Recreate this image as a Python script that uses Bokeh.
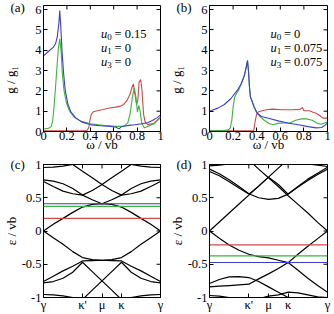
import math
from bokeh.plotting import figure
from bokeh.layouts import row, column
from bokeh.models import Range1d, FixedTicker, Label, Span, Title
from bokeh.embed import file_html
from bokeh.resources import INLINE

FONT = "Liberation Serif"
RED = "#d04848"
GREEN = "#3cb43c"
BLUE = "#3c3cd0"

# ---------------- panel (a): g/g1 vs omega/vb ----------------
a_blue_w = [0, 0.044, 0.085, 0.104, 0.117, 0.131, 0.139, 0.148, 0.158, 0.172, 0.186, 0.208, 0.235, 0.276, 0.33, 0.40, 0.48, 0.56, 0.62, 0.645, 0.67, 0.73, 0.78, 0.84, 0.89, 0.93, 0.97, 1.0]
a_blue_g = [3.72, 3.95, 4.15, 4.34, 4.64, 5.30, 5.95, 5.13, 3.98, 2.84, 2.02, 1.36, 0.95, 0.67, 0.46, 0.34, 0.28, 0.26, 0.21, 0.13, 0.25, 0.30, 0.33, 0.38, 0.43, 0.54, 0.67, 0.82]
a_green_w = [0, 0.044, 0.066, 0.079, 0.09, 0.104, 0.117, 0.128, 0.139, 0.150, 0.161, 0.175, 0.194, 0.221, 0.262, 0.317, 0.40, 0.51, 0.62, 0.686, 0.72, 0.74, 0.76, 0.776, 0.79, 0.803, 0.814, 0.825, 0.84, 0.863, 0.89, 0.95, 1.0]
a_green_g = [0.12, 0.16, 0.25, 0.54, 1.2, 2.26, 3.33, 4.15, 4.56, 3.98, 2.84, 2.02, 1.44, 1.03, 0.70, 0.51, 0.38, 0.30, 0.25, 0.25, 0.41, 0.87, 1.69, 2.15, 1.69, 0.95, 1.28, 1.03, 0.38, 0.18, 0.25, 0.40, 0.70]
a_red_w = [0, 0.372, 0.388, 0.399, 0.41, 0.426, 0.467, 0.508, 0.563, 0.617, 0.66, 0.686, 0.713, 0.74, 0.757, 0.768, 0.781, 0.795, 0.806, 0.817, 0.831, 0.842, 0.855, 0.869, 0.89, 0.945, 1.0]
a_red_g = [0.03, 0.05, 0.21, 0.62, 0.87, 0.97, 1.03, 1.08, 1.16, 1.20, 1.25, 1.33, 1.52, 1.85, 2.18, 2.34, 1.85, 1.33, 1.52, 2.43, 2.56, 2.02, 0.87, 0.46, 0.34, 0.41, 0.70]

# ---------------- panel (b) ----------------
b_blue_w = [0, 0.071, 0.126, 0.18, 0.235, 0.268, 0.295, 0.311, 0.322, 0.33, 0.339, 0.347, 0.361, 0.377, 0.404, 0.44, 0.508, 0.59, 0.672, 0.754, 0.836, 0.904, 0.951, 0.986, 1.0]
b_blue_g = [1.0, 1.15, 1.33, 1.61, 2.02, 2.34, 2.75, 3.16, 3.49, 3.0, 2.18, 1.69, 1.49, 1.23, 0.90, 0.74, 0.64, 0.51, 0.41, 0.33, 0.24, 0.18, 0.20, 0.34, 0.44]
b_green_w = [0, 0.126, 0.158, 0.175, 0.189, 0.20, 0.213, 0.235, 0.249, 0.268, 0.295, 0.311, 0.322, 0.33, 0.339, 0.347, 0.361, 0.377, 0.399, 0.426, 0.467, 0.508, 0.541, 0.577, 0.63, 0.68, 0.73, 0.78, 0.82, 0.87, 0.91, 0.94, 0.97, 1.0]
b_green_g = [0.05, 0.05, 0.08, 0.16, 0.54, 1.2, 1.69, 1.93, 2.05, 2.34, 2.75, 3.16, 3.49, 3.0, 2.18, 1.69, 1.49, 1.20, 0.95, 0.74, 0.54, 0.38, 0.33, 0.40, 0.42, 0.42, 0.55, 0.62, 0.62, 0.55, 0.42, 0.36, 0.40, 0.48]
b_red_w = [0, 0.375, 0.377, 0.388, 0.399, 0.415, 0.454, 0.495, 0.536, 0.617, 0.70, 0.768, 0.787, 0.80, 0.85, 0.877, 0.904, 0.93, 0.962, 1.0]
b_red_g = [0.03, 0.03, 0.13, 0.54, 0.84, 0.97, 1.03, 1.08, 1.10, 1.07, 1.07, 1.09, 1.18, 1.02, 1.02, 0.95, 0.90, 0.80, 0.66, 0.66]

# ---------------- band panels: path gamma(0) k'(2) mu(3) k(4) gamma(6) ----------------
k = [0, 0.5, 1, 1.5, 2, 2.5, 3, 3.5, 4, 4.5, 5, 5.5, 6]
c_bands = [
    [0.00, 0.10, 0.19, 0.28, 0.36, 0.40, 0.41, 0.40, 0.36, 0.28, 0.19, 0.10, 0.00],
    [0.745, 0.67, 0.60, 0.56, 0.54, 0.47, 0.41, 0.47, 0.54, 0.56, 0.60, 0.67, 0.745],
    [0.77, 0.75, 0.71, 0.64, 0.54, 0.61, 0.70, 0.80, 0.90, 1.00, 1.10, 1.18, 1.25],
    [1.25, 1.18, 1.10, 1.00, 0.90, 0.80, 0.70, 0.61, 0.54, 0.64, 0.71, 0.75, 0.77],
    [0.955, 0.96, 0.975, 1.0, 1.03, 1.06, 1.08, 1.06, 1.03, 1.0, 0.975, 0.96, 0.955],
    [0.00, -0.10, -0.20, -0.31, -0.40, -0.43, -0.44, -0.43, -0.40, -0.31, -0.20, -0.10, 0.00],
    [-0.76, -0.68, -0.60, -0.53, -0.45, -0.445, -0.44, -0.445, -0.45, -0.53, -0.60, -0.68, -0.76],
    [-0.78, -0.76, -0.71, -0.62, -0.47, -0.61, -0.75, -0.89, -1.03, -1.15, -1.22, -1.26, -1.3],
    [-1.3, -1.26, -1.22, -1.15, -1.03, -0.89, -0.75, -0.61, -0.47, -0.62, -0.71, -0.76, -0.78],
    [-0.955, -0.96, -0.975, -1.0, -1.03, -1.06, -1.08, -1.06, -1.03, -1.0, -0.975, -0.96, -0.955],
]
d_bands = [
    [0, 0.135, 0.27, 0.405, 0.54, 0.675, 0.81, 0.945, 1.08, 1.215, 1.35, 1.485, 1.62],
    [1.60, 1.47, 1.33, 1.20, 1.07, 0.93, 0.80, 0.67, 0.53, 0.40, 0.27, 0.13, 0],
    [0.93, 0.86, 0.77, 0.67, 0.56, 0.50, 0.475, 0.49, 0.555, 0.66, 0.76, 0.85, 0.93],
    [0.895, 0.83, 0.74, 0.645, 0.555, 0.675, 0.81, 0.70, 0.555, 0.67, 0.78, 0.87, 0.96],
    [0.98, 0.99, 1.01, 1.04, 1.08, 1.12, 1.15, 1.12, 1.08, 1.04, 1.01, 0.99, 0.97],
    [0, -0.11, -0.21, -0.29, -0.35, -0.385, -0.405, -0.44, -0.475, -0.59, -0.71, -0.82, -0.92],
    [-0.84, -0.83, -0.82, -0.81, -0.80, -0.72, -0.645, -0.565, -0.475, -0.35, -0.23, -0.115, 0],
    [-0.79, -0.73, -0.69, -0.685, -0.70, -0.76, -0.84, -0.92, -1.0, -1.05, -1.08, -1.05, -1.0],
    [-0.97, -0.98, -1.0, -1.02, -1.04, -1.02, -0.98, -0.96, -0.92, -0.93, -0.96, -0.99, -1.0],
]
c_levels = [0.19, 0.37, 0.41]
d_levels = [-0.21, -0.374, -0.474]
level_colors = [RED, GREEN, BLUE]

k_ticks = [0, 2, 3, 4, 6]
k_labels = {0: "γ", 2: "κ'", 3: "μ", 4: "κ", 6: "γ"}
w_ticks = [0, 0.2, 0.4, 0.6, 0.8, 1]
w_labels = {0: "0", 0.2: "0.2", 0.4: "0.4", 0.6: "0.6", 0.8: "0.8", 1: "1"}
g_ticks = [0, 1, 2, 3, 4, 5, 6]
e_ticks = [-1, -0.5, 0, 0.5, 1]
e_labels = {-1: "-1", -0.5: "-0.5", 0: "0", 0.5: "0.5", 1: "1"}

TICK_FS = "12.5px"
LAB_FS = "13px"
FW = 122
LEFT_L, LEFT_R, RIGHT_L, RIGHT_R = 38, 6, 39, 7
TOP = dict(h=157, top=5, bottom=26)
BOT = dict(h=157, top=7, bottom=16)
NBSP = "\u00a0"


def make_fig(w, h, left, right, top, bottom, xr, yr, xt, yt, xlab, ylab,
             xtitle, ytitle, ystand, ylab_stand, tag, tag_stand):
    p = figure(width=w, height=h, x_range=Range1d(*xr), y_range=Range1d(*yr),
               output_backend="svg", toolbar_location=None,
               min_border_left=left, min_border_right=right,
               min_border_top=top, min_border_bottom=bottom)
    p.grid.visible = False
    p.outline_line_color = "black"
    p.outline_line_width = 1
    p.background_fill_color = "white"
    p.border_fill_color = "white"
    for ax, ticks, labs in ((p.xaxis[0], xt, xlab), (p.yaxis[0], yt, ylab)):
        ax.ticker = FixedTicker(ticks=ticks)
        if labs:
            ax.major_label_overrides = labs
        ax.major_tick_in = 4
        ax.major_tick_out = 0
        ax.minor_tick_line_color = None
        ax.axis_line_color = "black"
        ax.major_tick_line_color = "black"
        ax.major_label_text_font = FONT
        ax.major_label_text_font_size = TICK_FS
        ax.major_label_text_color = "black"
        ax.axis_label_text_font = FONT
        ax.axis_label_text_font_size = LAB_FS
        ax.axis_label_text_font_style = "normal"
        ax.axis_label_text_color = "black"
    p.xaxis[0].major_label_standoff = 0
    p.yaxis[0].major_label_standoff = ylab_stand
    p.yaxis[0].axis_label = ytitle
    p.yaxis[0].axis_label_standoff = ystand
    if xtitle:
        p.add_layout(Title(text=xtitle, align="center", standoff=-11, vertical_align="top",
                           text_font=FONT, text_font_size=LAB_FS, text_font_style="normal",
                           text_color="black"), "below")
    # mirrored inward ticks on the top and right edges (half of each dash is clipped by the frame)
    p.scatter(x=xt, y=[yr[1]] * len(xt), marker="dash", angle=math.pi / 2, size=8,
              line_color="black", line_width=1)
    p.scatter(x=[xr[1]] * len(yt), y=yt, marker="dash", size=8,
              line_color="black", line_width=1)
    # panel tag drawn as a title pushed down next to the frame's upper left corner
    p.add_layout(Title(text=tag, align="left", offset=-33, standoff=tag_stand,
                       vertical_align="bottom", text_font=FONT, text_font_size=LAB_FS,
                       text_font_style="normal", text_color="black"), "above")
    return p


def add_text(p, x, y, text, size=LAB_FS, style="normal", align="left", baseline="middle"):
    p.add_layout(Label(x=x, y=y, text=text, text_font=FONT, text_font_size=size,
                       text_font_style=style, text_align=align,
                       text_baseline=baseline, text_color="black"))


FH_TOP = TOP["h"] - TOP["top"] - TOP["bottom"]
g_title = "g / g\u2081" + NBSP * 7

pa = make_fig(LEFT_L + FW + LEFT_R, TOP["h"], LEFT_L, LEFT_R, TOP["top"], TOP["bottom"], (0, 1), (0, 6.2),
              w_ticks, g_ticks, w_labels, None, "\u03c9 / vb", g_title, 14, 2, "(a)", -19)
pb = make_fig(RIGHT_L + FW + RIGHT_R, TOP["h"], RIGHT_L, RIGHT_R, TOP["top"], TOP["bottom"], (0, 1), (0, 6.2),
              w_ticks, g_ticks, w_labels, None, "\u03c9 / vb", g_title, 14, 2, "(b)", -19)
for p, bw, bg, gw, gg, rw, rg in ((pa, a_blue_w, a_blue_g, a_green_w, a_green_g, a_red_w, a_red_g),
                                  (pb, b_blue_w, b_blue_g, b_green_w, b_green_g, b_red_w, b_red_g)):
    p.line(rw, rg, line_color=RED, line_width=1.1)
    p.line(gw, gg, line_color=GREEN, line_width=1.1)
    p.line(bw, bg, line_color=BLUE, line_width=1.1)

gpx = FH_TOP / 6.2  # px per g unit
for p, x0, params in ((pa, 0.492, ("0.15", "0", "0")), (pb, 0.516, ("0", "0.075", "0.075"))):
    for i, (sub, val) in enumerate(zip(("0", "1", "3"), params)):
        yy = [4.82, 4.13, 3.44][i]
        add_text(p, x0, yy, "u", size="12.5px", style="italic")
        add_text(p, x0 + 6.5 / FW, yy - 3.5 / gpx, sub, size="9px")
        add_text(p, x0 + 14 / FW, yy, "= " + val, size="12.5px")

pc = make_fig(LEFT_L + FW + LEFT_R, BOT["h"], LEFT_L, LEFT_R, BOT["top"], BOT["bottom"], (0, 6), (-1, 1),
              k_ticks, e_ticks, k_labels, e_labels, None, "\u03b5 / vb", 0, 2, "(c)", -14)
pd = make_fig(RIGHT_L + FW + RIGHT_R, BOT["h"], RIGHT_L, RIGHT_R, BOT["top"], BOT["bottom"], (0, 6), (-1, 1),
              k_ticks, e_ticks, k_labels, e_labels, None, "\u03b5 / vb", 0, 2, "(d)", -14)
for p, bands, levels in ((pc, c_bands, c_levels), (pd, d_bands, d_levels)):
    for band in bands:
        p.line(k, band, line_color="black", line_width=1.2)
    for lv, col in zip(levels, level_colors):
        p.add_layout(Span(location=lv, dimension="width", line_color=col, line_width=1.2))

layout = column(row(pa, pb), row(pc, pd))
open("out.html", "w").write(file_html(layout, INLINE))
